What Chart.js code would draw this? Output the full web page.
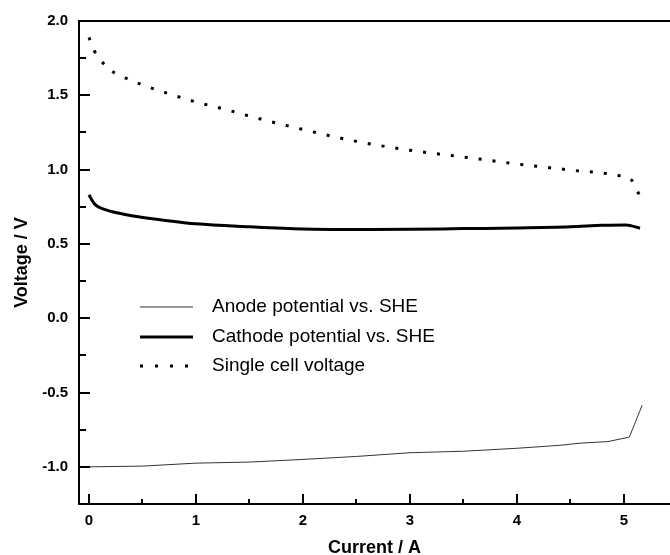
<!DOCTYPE html>
<html>
<head>
<meta charset="utf-8">
<script src="https://cdn.jsdelivr.net/npm/chart.js@4.4.1/dist/chart.umd.min.js"></script>
<style>
  html, body { margin: 0; padding: 0; background: #fff; }
  #wrap { width: 670px; height: 555px; }
</style>
</head>
<body>
<div id="wrap"><canvas id="toolChart" width="670" height="555"></canvas></div>
<script>
// ---- data ----
const anodeX = [0, 0.5, 1.0, 1.5, 2.0, 2.5, 3.0, 3.5, 4.0, 4.4, 4.6, 4.85, 5.05, 5.17];
const anodeV = [-1.0, -0.995, -0.975, -0.968, -0.95, -0.93, -0.905, -0.895, -0.875, -0.855, -0.84, -0.83, -0.80, -0.585];

const cathodeX = [0, 0.05, 0.1, 0.2, 0.4, 0.7, 1.0, 1.5, 2.0, 2.5, 3.0, 3.5, 4.0, 4.5, 4.8, 5.02, 5.15];
const cathodeV = [0.83, 0.77, 0.745, 0.72, 0.69, 0.66, 0.635, 0.615, 0.60, 0.597, 0.598, 0.603, 0.607, 0.615, 0.625, 0.628, 0.605];

const cellX = [0, 0.05, 0.1, 0.2, 0.3, 0.5, 0.75, 1.0, 1.25, 1.5, 2.0, 2.5, 3.0, 3.5, 4.0, 4.5, 4.95, 5.07, 5.15];
const cellV = [1.89, 1.80, 1.745, 1.67, 1.63, 1.57, 1.51, 1.455, 1.41, 1.36, 1.27, 1.19, 1.13, 1.085, 1.038, 0.997, 0.96, 0.93, 0.82];

const xMajor = [0, 1, 2, 3, 4, 5];
const xMinor = [0.5, 1.5, 2.5, 3.5, 4.5];
const yMajor = [-1.0, -0.5, 0.0, 0.5, 1.0, 1.5, 2.0];
const yMinor = [-1.25, -0.75, -0.25, 0.25, 0.75, 1.25, 1.75];

const legendLabels = ['Anode potential vs. SHE', 'Cathode potential vs. SHE', 'Single cell voltage'];

const FONT = '"Liberation Sans", Arial, Helvetica, sans-serif';

function toPoints(xs, ys) {
  return xs.map((x, i) => ({ x, y: ys[i] }));
}

// inward tick marks, top frame line, and the in-plot legend
const framePlugin = {
  id: 'frame',
  afterDraw(chart) {
    const ctx = chart.ctx;
    const area = chart.chartArea;
    const xs = chart.scales.x;
    const ys = chart.scales.y;
    ctx.save();
    ctx.strokeStyle = '#000';
    ctx.lineWidth = 2;
    ctx.beginPath();
    ctx.moveTo(area.left - 1, area.top);
    ctx.lineTo(area.right, area.top);
    ctx.stroke();

    ctx.beginPath();
    xMajor.forEach(v => { const p = Math.round(xs.getPixelForValue(v)); ctx.moveTo(p, area.bottom); ctx.lineTo(p, area.bottom - 10); });
    xMinor.forEach(v => { const p = Math.round(xs.getPixelForValue(v)); ctx.moveTo(p, area.bottom); ctx.lineTo(p, area.bottom - 5); });
    yMajor.forEach(v => { const p = Math.round(ys.getPixelForValue(v)); ctx.moveTo(area.left, p); ctx.lineTo(area.left + 11, p); });
    yMinor.forEach(v => { const p = Math.round(ys.getPixelForValue(v)); ctx.moveTo(area.left, p); ctx.lineTo(area.left + 7, p); });
    ctx.stroke();

    // legend
    const rows = [307, 337, 366];
    const styles = [
      { w: 1, color: '#333', dash: [] },
      { w: 3, color: '#000', dash: [] },
      { w: 3, color: '#000', dash: [3, 12] }
    ];
    rows.forEach((y, i) => {
      const s = styles[i];
      ctx.beginPath();
      ctx.lineWidth = s.w;
      ctx.strokeStyle = s.color;
      ctx.setLineDash(s.dash);
      ctx.moveTo(140, y);
      ctx.lineTo(193, y);
      ctx.stroke();
      ctx.setLineDash([]);
      ctx.fillStyle = '#000';
      ctx.font = '19px ' + FONT;
      ctx.textBaseline = 'middle';
      ctx.textAlign = 'left';
      ctx.fillText(legendLabels[i], 212, y);
    });
    ctx.restore();
  }
};

const chart = new Chart(document.getElementById('toolChart'), {
  type: 'line',
  data: {
    datasets: [
      { label: legendLabels[0], data: toPoints(anodeX, anodeV), borderColor: '#333', borderWidth: 1, pointRadius: 0, tension: 0 },
      { label: legendLabels[1], data: toPoints(cathodeX, cathodeV), borderColor: '#000', borderWidth: 3, pointRadius: 0, cubicInterpolationMode: 'monotone' },
      { label: legendLabels[2], data: toPoints(cellX, cellV), borderColor: '#000', borderWidth: 3, borderDash: [3, 11], pointRadius: 0, cubicInterpolationMode: 'monotone' }
    ]
  },
  options: {
    responsive: false,
    animation: false,
    layout: { padding: { top: 21, right: 0, left: 0, bottom: 0 } },
    plugins: { legend: { display: false }, tooltip: { enabled: false } },
    scales: {
      x: {
        type: 'linear',
        min: -0.093,
        max: 5.43,
        afterBuildTicks: s => { s.ticks = xMajor.map(v => ({ value: v })); },
        afterFit: s => { s.height = 51; },
        grid: { display: false, drawTicks: false },
        border: { display: true, color: '#000', width: 2 },
        ticks: { autoSkip: false, maxRotation: 0, padding: 8, color: '#000', font: { family: FONT, size: 15, weight: 'bold' } },
        title: { display: true, text: 'Current / A', color: '#000', padding: { top: 0, bottom: -2 }, font: { family: FONT, size: 18, weight: 'bold', lineHeight: 1 } }
      },
      y: {
        min: -1.25,
        max: 2.0,
        afterBuildTicks: s => { s.ticks = yMajor.map(v => ({ value: v })); },
        afterFit: s => { s.width = 79; },
        grid: { display: false, drawTicks: false },
        border: { display: true, color: '#000', width: 2 },
        ticks: { autoSkip: false, padding: 11, color: '#000', font: { family: FONT, size: 15, weight: 'bold' }, callback: v => v.toFixed(1) },
        title: { display: true, text: 'Voltage / V', color: '#000', padding: { top: 13, bottom: 0 }, font: { family: FONT, size: 18, weight: 'bold', lineHeight: 1 } }
      }
    }
  },
  plugins: [framePlugin]
});
</script>
</body>
</html>
